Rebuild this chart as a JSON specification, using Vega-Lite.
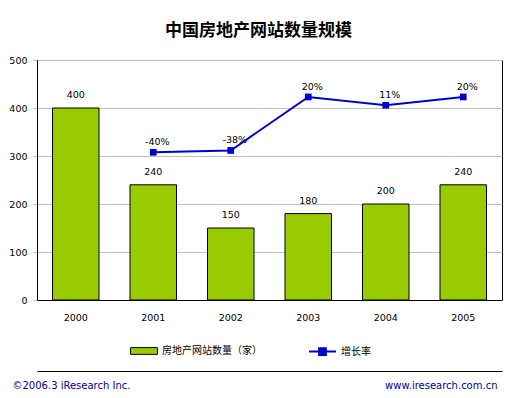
{
  "$schema": "https://vega.github.io/schema/vega-lite/v6.json",
  "width": 465,
  "height": 240,
  "autosize": {"type": "none"},
  "padding": {"left": 37, "top": 60, "right": 15, "bottom": 98},
  "background": "white",
  "title": {
    "text": "中国房地产网站数量规模",
    "font": "Noto Sans CJK SC",
    "fontSize": 17,
    "fontWeight": "bold",
    "color": "black",
    "frame": "group",
    "anchor": "middle",
    "dx": -11,
    "offset": 15
  },
  "config": {
    "locale": {"number": {"decimal": ".", "thousands": ",", "grouping": [3], "currency": ["$", ""], "minus": "-"}},
    "view": {"stroke": "black", "strokeWidth": 1},
    "axis": {"labelFont": "DejaVu Sans", "labelFontSize": 9.5, "labelColor": "black"},
    "legend": {"labelFont": "Noto Sans CJK SC", "labelFontSize": 10, "labelColor": "black", "padding": 0}
  },
  "data": {
    "values": [
      {"year": "2000", "count": 400, "rate": null, "s1": "房地产网站数量（家）", "s2": "增长率"},
      {"year": "2001", "count": 240, "rate": -0.40, "s1": "房地产网站数量（家）", "s2": "增长率"},
      {"year": "2002", "count": 150, "rate": -0.38, "s1": "房地产网站数量（家）", "s2": "增长率"},
      {"year": "2003", "count": 180, "rate": 0.20, "s1": "房地产网站数量（家）", "s2": "增长率"},
      {"year": "2004", "count": 200, "rate": 0.11, "s1": "房地产网站数量（家）", "s2": "增长率"},
      {"year": "2005", "count": 240, "rate": 0.20, "s1": "房地产网站数量（家）", "s2": "增长率"}
    ]
  },
  "layer": [
    {
      "encoding": {
        "x": {
          "field": "year", "type": "nominal",
          "scale": {"paddingInner": 0.4, "paddingOuter": 0.2},
          "axis": {
            "labelAngle": 0, "ticks": false, "labelPadding": 12, "domainColor": "black",
            "title": "©2006.3 iResearch Inc.",
            "titleAnchor": "start", "titleAlign": "left", "titleX": -25, "titleY": 88,
            "titleBaseline": "alphabetic",
            "titleFont": "DejaVu Sans", "titleFontSize": 10, "titleFontWeight": "normal", "titleColor": "#000099"
          }
        },
        "y": {
          "field": "count", "type": "quantitative",
          "scale": {"domain": [0, 500], "nice": false},
          "axis": {
            "title": null, "values": [0, 100, 200, 300, 400, 500], "labelOverlap": false,
            "gridColor": "#C0C0C0", "tickColor": "#C0C0C0", "tickSize": 4, "labelPadding": 6,
            "domainColor": "black"
          }
        }
      },
      "layer": [
        {
          "mark": {"type": "bar", "stroke": "black", "strokeWidth": 1},
          "encoding": {
            "fill": {
              "field": "s1", "type": "nominal",
              "scale": {"range": ["#99CC00"]},
              "legend": {
                "title": null, "orient": "none", "legendX": 93, "legendY": 277,
                "symbolType": "M-1,-0.25H1V0.25H-1Z", "symbolSize": 729,
                "symbolStrokeColor": "black", "symbolStrokeWidth": 1, "labelOffset": 4
              }
            }
          }
        },
        {
          "mark": {"type": "text", "baseline": "bottom", "dy": -8, "font": "DejaVu Sans", "fontSize": 9.5, "color": "black"},
          "encoding": {"text": {"field": "count", "type": "quantitative"}}
        }
      ]
    },
    {
      "transform": [{"filter": "datum.rate != null"}],
      "encoding": {
        "x": {
          "field": "year", "type": "nominal",
          "axis": {
            "orient": "bottom", "offset": 71, "labels": false, "ticks": false, "domainColor": "black",
            "title": "www.iresearch.com.cn",
            "titleAnchor": "end", "titleAlign": "right", "titleX": 460, "titleY": 17,
            "titleBaseline": "alphabetic",
            "titleFont": "DejaVu Sans", "titleFontSize": 10, "titleFontWeight": "normal", "titleColor": "#000099"
          }
        },
        "y": {
          "field": "rate", "type": "quantitative",
          "scale": {"domain": [-2.0, 0.6], "nice": false, "zero": false},
          "axis": null
        }
      },
      "layer": [
        {
          "mark": {"type": "line", "strokeWidth": 2},
          "encoding": {
            "stroke": {
              "field": "s2", "type": "nominal",
              "scale": {"range": ["#0000CC"]},
              "legend": {
                "title": null, "orient": "none", "legendX": 271, "legendY": 277,
                "symbolType": "M-1,0H1M-0.25,-0.25H0.25V0.25H-0.25Z", "symbolSize": 729,
                "symbolStrokeWidth": 2, "symbolFillColor": "#0000CC", "labelOffset": 4
              }
            }
          }
        },
        {
          "mark": {"type": "square", "size": 45, "filled": true, "color": "#0000CC", "opacity": 1}
        },
        {
          "mark": {"type": "text", "baseline": "middle", "dy": -10, "dx": 4, "font": "DejaVu Sans", "fontSize": 9.5, "color": "black"},
          "encoding": {"text": {"field": "rate", "type": "quantitative", "format": ".0%"}}
        }
      ]
    }
  ],
  "resolve": {"scale": {"y": "independent", "fill": "independent", "stroke": "independent"}, "axis": {"x": "independent"}}
}
